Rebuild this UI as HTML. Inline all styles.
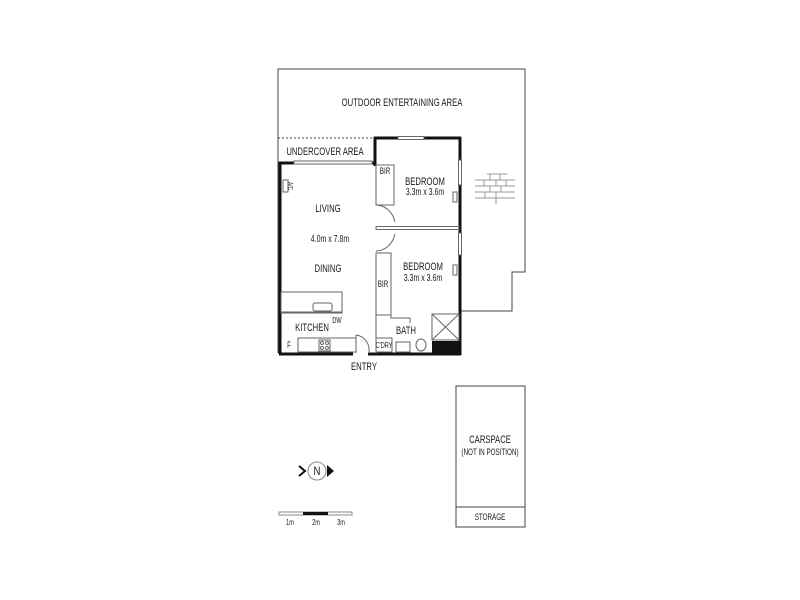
<!DOCTYPE html>
<html><head><meta charset="utf-8"><style>
html,body{margin:0;padding:0;background:#fff;}
svg{display:block}
text{font-family:"Liberation Sans",sans-serif;fill:#1a1a1a;}
</style></head><body>
<svg width="800" height="600" viewBox="0 0 800 600" xmlns="http://www.w3.org/2000/svg">
<g fill="none" stroke="#444" stroke-width="1">
<polyline points="278,353 278,69 525,69 525,272 512,272 512,311 460,311"/>
<line x1="278" y1="138" x2="374" y2="138" stroke-dasharray="2,2"/>
</g>
<g stroke="#111" stroke-width="3" fill="none">
<line x1="280" y1="162" x2="280" y2="354"/>
<line x1="279" y1="354" x2="353" y2="354"/>
<line x1="368" y1="354" x2="461" y2="354"/>
<line x1="460" y1="137" x2="460" y2="355"/>
<line x1="374" y1="138" x2="398" y2="138"/>
<line x1="424" y1="138" x2="461" y2="138"/>
<line x1="279" y1="163" x2="294" y2="163"/>
<line x1="372" y1="163" x2="376" y2="163"/>
<line x1="375" y1="137" x2="375" y2="166"/>
</g>
<g stroke="#fff" stroke-width="4"><line x1="460" y1="160" x2="460" y2="185"/><line x1="460" y1="233" x2="460" y2="255"/></g>
<g stroke="#666" stroke-width="1" fill="none">
<rect x="294" y="161" width="78" height="3"/>
<rect x="398" y="136.5" width="26" height="3"/>
<rect x="458.5" y="160" width="3" height="25"/>
<rect x="458.5" y="233" width="3" height="22"/>
<rect x="376" y="165" width="18" height="40"/>
<line x1="376" y1="226.5" x2="460" y2="226.5"/>
<line x1="376" y1="229.5" x2="460" y2="229.5"/>
<line x1="376" y1="226.5" x2="376" y2="229.5"/>
<path d="M376,205 A20,22 0 0 1 395,222"/>
<path d="M395,234 A20,22 0 0 1 376,251"/>
<rect x="376" y="253" width="15" height="62"/>
<line x1="376" y1="315" x2="376" y2="354"/>
<polyline points="391,315 391,318 410,318 410,323"/>
<rect x="281" y="292" width="61" height="20"/>
<rect x="281" y="312" width="61" height="1"/>
<rect x="313" y="303" width="19" height="8" rx="2"/>
<rect x="298" y="338" width="58" height="14"/>
<rect x="319" y="340" width="11" height="11"/>
<circle cx="322" cy="343" r="1.5"/><circle cx="327" cy="343" r="1.5"/><circle cx="322" cy="348" r="1.5"/><circle cx="327" cy="348" r="1.5"/>
<path d="M356,335 A15,15 0 0 1 369,352"/>
<line x1="356" y1="335" x2="356" y2="353"/>
<rect x="376" y="338" width="16" height="14"/>
<rect x="396" y="342" width="14" height="10"/>
<ellipse cx="421" cy="345" rx="5" ry="6"/>
<rect x="432" y="314" width="27" height="26"/>
<line x1="432" y1="314" x2="459" y2="340"/><line x1="459" y1="314" x2="432" y2="340"/>
<rect x="283" y="180" width="5" height="12"/>
<rect x="453" y="192" width="4" height="10"/>
<rect x="453" y="265" width="4" height="10"/>
<g stroke="#999">
<line x1="475" y1="180" x2="515" y2="180"/><line x1="475" y1="186" x2="515" y2="186"/><line x1="475" y1="192" x2="515" y2="192"/><line x1="475" y1="198" x2="515" y2="198"/>
<line x1="487" y1="174" x2="507" y2="174"/>
<line x1="490" y1="174" x2="490" y2="180"/><line x1="500" y1="174" x2="500" y2="180"/><line x1="484" y1="180" x2="484" y2="186"/><line x1="496" y1="180" x2="496" y2="186"/><line x1="506" y1="180" x2="506" y2="186"/><line x1="490" y1="186" x2="490" y2="192"/><line x1="501" y1="186" x2="501" y2="192"/><line x1="485" y1="192" x2="485" y2="198"/><line x1="496" y1="192" x2="496" y2="198"/><line x1="496" y1="198" x2="496" y2="204"/>
</g>
<rect x="456" y="386" width="69" height="141" stroke="#444"/>
<line x1="456" y1="507" x2="525" y2="507" stroke="#444"/>
<circle cx="317" cy="471" r="9" stroke="#888"/>
<rect x="279" y="512" width="73" height="3" stroke="#888"/>
</g>
<rect x="432" y="341" width="28" height="13" fill="#111"/>
<rect x="303" y="512" width="25" height="3" fill="#111"/>
<path d="M299,466 L305,471 L299,476" stroke="#111" stroke-width="2" fill="none"/>
<path d="M327,465 L334,471 L327,477 Z" fill="#111"/>
<g transform="translate(317,475) scale(0.8,1)"><text font-size="12" text-anchor="middle" fill="#777">N</text></g>
<g font-size="11" text-anchor="middle">
<g transform="translate(402,106) scale(0.7,1)"><text>OUTDOOR ENTERTAINING AREA</text></g>
<g transform="translate(325,155) scale(0.7,1)"><text>UNDERCOVER AREA</text></g>
<g transform="translate(328,212) scale(0.7,1)"><text>LIVING</text></g>
<g transform="translate(330,242) scale(0.7,1)"><text font-size="10">4.0m x 7.8m</text></g>
<g transform="translate(328,272) scale(0.7,1)"><text>DINING</text></g>
<g transform="translate(312,331) scale(0.7,1)"><text>KITCHEN</text></g>
<g transform="translate(425,185) scale(0.7,1)"><text>BEDROOM</text></g>
<g transform="translate(425,195) scale(0.7,1)"><text font-size="10">3.3m x 3.6m</text></g>
<g transform="translate(423,270) scale(0.7,1)"><text>BEDROOM</text></g>
<g transform="translate(423,281) scale(0.7,1)"><text font-size="10">3.3m x 3.6m</text></g>
<g transform="translate(385,174) scale(0.7,1)"><text font-size="9">BIR</text></g>
<g transform="translate(383,287) scale(0.7,1)"><text font-size="9">BIR</text></g>
<g transform="translate(406,334) scale(0.7,1)"><text>BATH</text></g>
<g transform="translate(384,348) scale(0.7,1)"><text font-size="8">C'DRY</text></g>
<g transform="translate(364,370) scale(0.7,1)"><text>ENTRY</text></g>
<g transform="translate(490,443) scale(0.7,1)"><text>CARSPACE</text></g>
<g transform="translate(490,455) scale(0.7,1)"><text font-size="9">(NOT IN POSITION)</text></g>
<g transform="translate(490,520) scale(0.7,1)"><text font-size="9">STORAGE</text></g>
<g transform="translate(290,525) scale(0.7,1)"><text font-size="8">1m</text></g>
<g transform="translate(316,525) scale(0.7,1)"><text font-size="8">2m</text></g>
<g transform="translate(341,525) scale(0.7,1)"><text font-size="8">3m</text></g>
<g transform="translate(337,323) scale(0.7,1)"><text font-size="8">DW</text></g>
<g transform="translate(289,348) scale(0.7,1)"><text font-size="9">F</text></g>
<g transform="translate(288,186) rotate(90) scale(0.7,1)"><text font-size="7">A/C</text></g>
</g>
</svg>
</body></html>
